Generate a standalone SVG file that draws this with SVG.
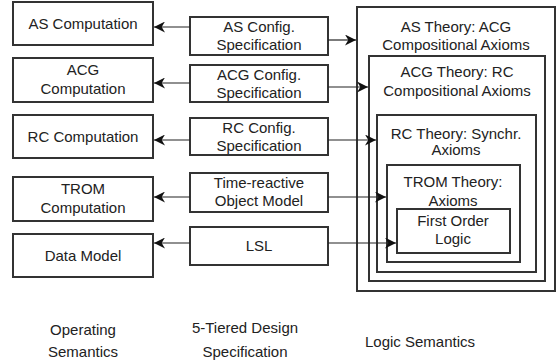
<svg xmlns="http://www.w3.org/2000/svg" width="556" height="364" viewBox="0 0 556 364">
<defs>
<marker id="ah" viewBox="0 0 10 10" refX="10" refY="5" markerWidth="11" markerHeight="11" markerUnits="userSpaceOnUse" orient="auto">
<path d="M0,0 L10,5 L0,10 L3,5 z" fill="#111"/>
</marker>
<style>
.b{fill:#fff;stroke:#333;stroke-width:2}
.n{fill:none;stroke:#333;stroke-width:2}
text{font-family:"Liberation Sans",Arial,sans-serif;font-size:15px;fill:#222;text-anchor:middle}
.c line{stroke:#222;stroke-width:1.2;marker-end:url(#ah)}
</style>
</defs>
<rect width="556" height="364" fill="#fff"/>
<g id="logic">
<g id="as-theory"><rect class="n" x="357" y="7" width="198" height="284"/><text x="456" y="32">AS Theory: ACG</text><text x="456" y="50">Compositional Axioms</text></g>
<g id="acg-theory"><rect class="n" x="369" y="56" width="176" height="225"/><text x="457" y="77">ACG Theory: RC</text><text x="457" y="96">Compositional Axioms</text></g>
<g id="rc-theory"><rect class="n" x="377" y="115" width="159" height="157"/><text x="456" y="139">RC Theory: Synchr.</text><text x="456" y="155">Axioms</text></g>
<g id="trom-theory"><rect class="n" x="387" y="165" width="133" height="97"/><text x="453" y="187">TROM Theory:</text><text x="453" y="206">Axioms</text></g>
<g id="fol"><rect class="b" x="397" y="209" width="113" height="44"/><text x="453" y="226">First Order</text><text x="453" y="244">Logic</text></g>
</g>
<g id="as-comp"><rect class="b" x="13" y="2" width="140" height="43"/><text x="83" y="29">AS Computation</text></g>
<g id="acg-comp"><rect class="b" x="13" y="58" width="140" height="44"/><text x="83" y="75">ACG</text><text x="83" y="94">Computation</text></g>
<g id="rc-comp"><rect class="b" x="13" y="115" width="140" height="43"/><text x="83" y="142">RC Computation</text></g>
<g id="trom-comp"><rect class="b" x="13" y="177" width="140" height="44"/><text x="83" y="194">TROM</text><text x="83" y="213">Computation</text></g>
<g id="data-model"><rect class="b" x="13" y="234" width="140" height="43"/><text x="83" y="261">Data Model</text></g>
<g id="as-config"><rect class="b" x="190" y="17" width="138" height="38"/><text x="259" y="32">AS Config.</text><text x="259" y="50">Specification</text></g>
<g id="acg-config"><rect class="b" x="190" y="65" width="138" height="37"/><text x="259" y="80">ACG Config.</text><text x="259" y="98">Specification</text></g>
<g id="rc-config"><rect class="b" x="190" y="118" width="138" height="37"/><text x="259" y="133">RC Config.</text><text x="259" y="151">Specification</text></g>
<g id="trom-model"><rect class="b" x="190" y="173" width="138" height="39"/><text x="259" y="188">Time-reactive</text><text x="259" y="206">Object Model</text></g>
<g id="lsl"><rect class="b" x="190" y="227" width="138" height="38"/><text x="259" y="251">LSL</text></g>
<g id="connectors" class="c">
<line x1="190" y1="27" x2="154" y2="27"/>
<line x1="190" y1="83" x2="154" y2="83"/>
<line x1="190" y1="140" x2="154" y2="140"/>
<line x1="190" y1="197" x2="154" y2="197"/>
<line x1="190" y1="243" x2="154" y2="243"/>
<line x1="328" y1="40" x2="356" y2="40"/>
<line x1="328" y1="87" x2="368" y2="87"/>
<line x1="328" y1="140" x2="376" y2="140"/>
<line x1="328" y1="197" x2="386" y2="197"/>
<line x1="328" y1="243" x2="396" y2="243"/>
</g>
<g id="captions">
<text x="83" y="335">Operating</text><text x="83" y="357">Semantics</text>
<text x="245" y="333">5-Tiered Design</text><text x="245" y="357">Specification</text>
<text x="420" y="347">Logic Semantics</text>
</g>
</svg>
